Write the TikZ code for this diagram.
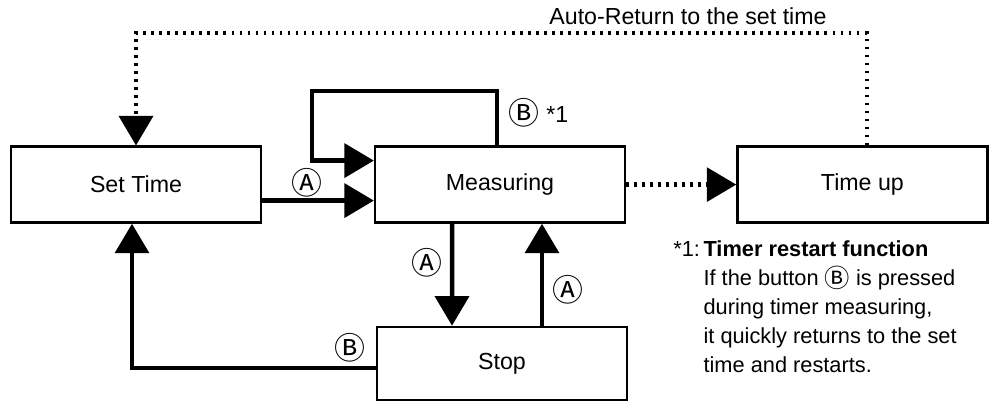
\documentclass[tikz,border=0pt]{standalone}
\usepackage{fontspec}
\setmainfont{Liberation Sans}
\newfontfamily\circfont{Noto Sans CJK SC}
\usetikzlibrary{arrows.meta, positioning, calc}

\newcommand{\btnA}[1][22]{\raisebox{-0.1em}{\circfont\fontsize{#1}{#1}\selectfont Ⓐ}}
\newcommand{\btnB}[1][22]{\raisebox{-0.1em}{\circfont\fontsize{#1}{#1}\selectfont Ⓑ}}

\begin{document}
\begin{tikzpicture}[
    state/.style={draw, line width=1.6pt, minimum width=6.25cm, minimum height=1.9cm, inner sep=0pt},
    arr/.style={-{Triangle[length=21pt, width=24pt]}, line width=3.2pt},
    darr/.style={arr, line width=3pt, dash pattern=on 1.8pt off 3.9pt},
    font=\fontsize{16.5}{20}\selectfont,
    lbl/.style={inner sep=1pt},
    note/.style={font=\fontsize{15.5}{20.6}\selectfont, anchor=base west, inner sep=0pt}
]
\useasboundingbox (0,0) rectangle (25.075,10.075);

% ---- States ----
\node[state] (st) at (3.4, 5.46) {Set Time};
\node[state] (ms) at (12.5, 5.46) {Measuring};
\node[state] (tu) at (21.56, 5.46) {Time up};
\node[state, minimum height=1.83cm] (sp) at (12.55, 0.99) {Stop};

% ---- Set Time -> Measuring ----
\draw[arr] ([yshift=-0.4cm]st.east) -- ([yshift=-0.4cm]ms.west);
\node[lbl] (aSM) at (7.675, 5.5) {\btnA};

% ---- restart loop (B) ----
\draw[arr] ([xshift=-0.075cm]ms.north) |- (7.8, 7.8) |- ([yshift=0.6cm]ms.west);
\node[lbl, anchor=west] (bLoop) at (12.68, 7.25) {\btnB\ *1};

% ---- Measuring <-> Stop ----
\draw[arr] ([xshift=-1.2cm]ms.south) -- ([xshift=-1.25cm]sp.north);
\node[lbl] (aMS) at (10.675, 3.5) {\btnA};
\draw[arr] ([xshift=1.0cm]sp.north) -- ([xshift=1.05cm]ms.south);
\node[lbl] (aSP) at (14.2, 2.825) {\btnA};

% ---- Stop -> Set Time ----
\draw[arr] ([yshift=-0.115cm]sp.west) -| ([xshift=-0.1cm]st.south);
\node[lbl] (bSS) at (8.75, 1.375) {\btnB};

% ---- Measuring -> Time up -> Set Time (dotted) ----
\draw[darr] (ms.east) -- (tu.west);
\draw[darr] ([xshift=0.11cm]tu.north) |- (3.4, 9.25) -- (st.north);
\node[lbl] (auto) at (17.2, 9.66) {Auto-Return to the set time};

% ---- footnote ----
\node[note] (fn) at (16.825, 3.66) {\begin{tabular}[t]{@{}l@{\,}l@{}}
    *1: & \textbf{Timer restart function}\\
        & If the button \btnB[18] is pressed\\
        & during timer measuring,\\
        & it quickly returns to the set\\
        & time and restarts.
\end{tabular}};

\end{tikzpicture}
\end{document}
